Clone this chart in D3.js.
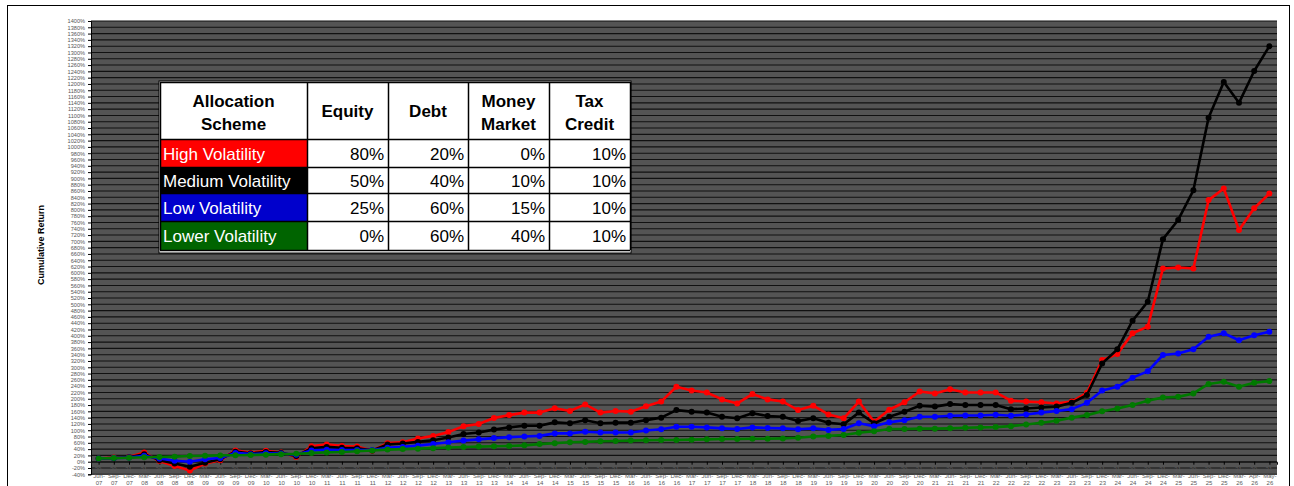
<!DOCTYPE html>
<html>
<head>
<meta charset="utf-8">
<script src="https://cdn.jsdelivr.net/npm/d3@7"></script>
<style>
body { margin: 0; background: #fff; }
svg { display: block; font-family: "Liberation Sans", Arial, sans-serif; }
</style>
</head>
<body>
<svg id="chart"></svg>
<script>
var width = 1294;
var height = 486;

// Quarter-end dates (category axis)
var dates = ['30-Jun-07', '30-Sep-07', '31-Dec-07',
    '31-Mar-08', '30-Jun-08', '30-Sep-08', '31-Dec-08',
    '31-Mar-09', '30-Jun-09', '30-Sep-09', '31-Dec-09',
    '31-Mar-10', '30-Jun-10', '30-Sep-10', '31-Dec-10',
    '31-Mar-11', '30-Jun-11', '30-Sep-11', '31-Dec-11',
    '31-Mar-12', '30-Jun-12', '30-Sep-12', '31-Dec-12',
    '31-Mar-13', '30-Jun-13', '30-Sep-13', '31-Dec-13',
    '31-Mar-14', '30-Jun-14', '30-Sep-14', '31-Dec-14',
    '31-Mar-15', '30-Jun-15', '30-Sep-15', '31-Dec-15',
    '31-Mar-16', '30-Jun-16', '30-Sep-16', '31-Dec-16',
    '31-Mar-17', '30-Jun-17', '30-Sep-17', '31-Dec-17',
    '31-Mar-18', '30-Jun-18', '30-Sep-18', '31-Dec-18',
    '31-Mar-19', '30-Jun-19', '30-Sep-19', '31-Dec-19',
    '31-Mar-20', '30-Jun-20', '30-Sep-20', '31-Dec-20',
    '31-Mar-21', '30-Jun-21', '30-Sep-21', '31-Dec-21',
    '31-Mar-22', '30-Jun-22', '30-Sep-22', '31-Dec-22',
    '31-Mar-23', '30-Jun-23', '30-Sep-23', '31-Dec-23',
    '31-Mar-24', '30-Jun-24', '30-Sep-24', '31-Dec-24',
    '31-Mar-25', '30-Jun-25', '30-Sep-25', '31-Dec-25',
    '31-Mar-26', '30-Apr-26', '31-May-26'];

// Cumulative return (%) per scheme
var highVol = [10, 13, 15, 29, 2, -14, -28, -6, 5, 36,
    28, 35, 29, 15, 49, 55, 50, 48, 35, 59,
    62, 74, 82, 94, 113, 120, 139, 148, 156, 156,
    170, 161, 182, 156, 161, 159, 176, 191, 238, 226,
    220, 198, 185, 215, 198, 191, 164, 178, 150, 138,
    191, 127, 165, 189, 223, 217, 230, 220, 220, 220,
    194, 191, 189, 185, 191, 219, 323, 342, 408, 429,
    614, 617, 614, 831, 868, 736, 805, 852];
var mediumVol = [10, 12, 14, 24, 5, -6, -16, -3, 8, 32,
    26, 31, 28, 18, 43, 47, 44, 43, 36, 55,
    58, 63, 68, 77, 88, 93, 102, 109, 114, 114,
    125, 122, 132, 122, 124, 124, 132, 140, 164, 159,
    156, 143, 138, 154, 145, 143, 129, 138, 124, 119,
    156, 122, 143, 159, 178, 175, 183, 180, 180, 180,
    167, 169, 172, 175, 187, 212, 312, 357, 448, 508,
    707, 768, 862, 1093, 1206, 1140, 1241, 1320];
var lowVol = [10, 12, 13, 19, 10, 3, 0, 8, 12, 28,
    24, 27, 26, 22, 36, 38, 37, 37, 37, 44,
    47, 51, 56, 62, 67, 71, 75, 78, 80, 82,
    90, 90, 95, 93, 93, 93, 99, 103, 111, 111,
    109, 106, 104, 109, 107, 106, 103, 106, 101, 104,
    122, 113, 125, 132, 143, 143, 146, 147, 147, 149,
    146, 150, 156, 161, 167, 187, 226, 238, 267, 287,
    339, 344, 357, 397, 408, 386, 402, 413];
var lowerVol = [10, 11.5, 12.5, 14, 15, 16, 18, 19, 20, 20.5,
    21.5, 22.5, 24, 25, 27.5, 29.5, 31, 33, 36, 38.5,
    40, 41.5, 43, 45, 46.5, 48, 49, 50, 52, 56,
    59, 62, 63, 65, 66, 67, 68, 69, 69, 70,
    71, 72, 72, 73, 73, 74, 76, 80, 82, 85,
    92, 97, 104, 104, 105, 105, 106, 108, 109, 110,
    113, 118, 124, 130, 140, 148, 160, 169, 180, 194,
    204, 206, 217, 247, 254, 238, 251, 256];

// Allocation table
var schemes = ['High Volatility', 'Medium Volatility', 'Low Volatility', 'Lower Volatility'];
var equity = ['80%', '50%', '25%', '0%'];
var debt = ['20%', '40%', '60%', '60%'];
var moneyMarket = ['0%', '10%', '15%', '40%'];
var taxCredit = ['10%', '10%', '10%', '10%'];
var headers = [['Allocation', 'Scheme'], ['Equity'], ['Debt'], ['Money', 'Market'], ['Tax', 'Credit']];

var lineColors = ['#ff0000', '#000000', '#0000ff', '#007a00'];
var cellColors = ['#ff0000', '#000000', '#0000cc', '#006400'];

var series = [highVol, mediumVol, lowVol, lowerVol];

var svg = d3.select('#chart')
        .attr('width', width)
        .attr('height', height);

// chart area border
svg.append('rect')
    .attr('x', 7.5)
    .attr('y', 5.5)
    .attr('width', 1282)
    .attr('height', 500)
    .attr('fill', '#fff')
    .attr('stroke', '#000');

var plot = {left: 91, right: 1277, top: 21, bottom: 474.3};

var x = d3.scalePoint()
    .domain(dates)
    .range([plot.left, plot.right])
    .padding(0.5);

var y = d3.scaleLinear()
    .domain([-40, 1400])
    .range([plot.bottom, plot.top]);

var yTicks = d3.range(-40, 1401, 20);

// plot background
svg.append('rect')
    .attr('x', plot.left)
    .attr('y', plot.top)
    .attr('width', plot.right - plot.left)
    .attr('height', plot.bottom - plot.top)
    .attr('fill', '#545454');

// gridlines
svg.append('g')
    .selectAll('line')
    .data(yTicks)
    .enter()
    .append('line')
        .attr('x1', plot.left)
        .attr('x2', plot.right)
        .attr('y1', d => y(d))
        .attr('y2', d => y(d))
        .attr('stroke', '#111')
        .attr('stroke-width', 1.1);

// y axis
var yAxis = svg.append('g')
    .attr('transform', `translate(${plot.left}, 0)`)
    .call(d3.axisLeft(y).tickValues(yTicks).tickFormat(d => d + '%').tickSize(3).tickPadding(3));

yAxis.select('.domain').attr('stroke', '#000');
yAxis.selectAll('.tick line').attr('stroke', '#000');
yAxis.selectAll('.tick text')
    .attr('font-size', 5.6)
    .attr('fill', '#555')
    .attr('font-family', '"Liberation Sans", Arial, sans-serif');

// y axis title
svg.append('text')
    .attr('transform', 'translate(44, 245) rotate(-90)')
    .attr('text-anchor', 'middle')
    .attr('font-size', 9)
    .attr('font-weight', 'bold')
    .text('Cumulative Return');

// x axis crossing at 0%
var xAxis = svg.append('g')
    .attr('transform', `translate(0, ${y(0)})`)
    .call(d3.axisBottom(x).tickSize(3).tickFormat(''));

xAxis.select('.domain').attr('stroke', '#111');
xAxis.selectAll('.tick line').attr('stroke', '#000');

var xLabels = xAxis.selectAll('.tick')
    .append('text')
        .attr('fill', '#5a5a5a')
        .attr('font-size', 6)
        .attr('font-family', '"Liberation Sans", Arial, sans-serif')
        .attr('text-anchor', 'middle');

xLabels.selectAll('tspan')
    .data(d => {
        var p = d.split('-');
        return [p[0] + '-', p[1] + '-', p[2]];
    })
    .enter()
    .append('tspan')
        .attr('x', 0)
        .attr('y', (d, i) => 9 + i * 7.1)
        .text(d => d);

// series lines and markers
var line = d3.line()
    .x((d, i) => x(dates[i]))
    .y(d => y(d));

series.forEach(function(s, k) {
    var g = svg.append('g');
    g.append('path')
        .datum(s)
        .attr('fill', 'none')
        .attr('stroke', lineColors[k])
        .attr('stroke-width', 2.6)
        .attr('stroke-linejoin', 'round')
        .attr('d', line);
    g.selectAll('circle')
        .data(s)
        .enter()
        .append('circle')
            .attr('cx', (d, i) => x(dates[i]))
            .attr('cy', d => y(d))
            .attr('r', 3)
            .attr('fill', lineColors[k]);
});

// allocation table
var colEdges = [160, 307, 388, 468, 549, 630];
var rowEdges = [82, 139, 167, 193, 221, 250];
var values = [equity, debt, moneyMarket, taxCredit];

var table = svg.append('g')
    .attr('font-size', 17);

table.append('rect')
    .attr('x', colEdges[0] - 1)
    .attr('y', rowEdges[0] - 1)
    .attr('width', colEdges[5] - colEdges[0] + 2)
    .attr('height', rowEdges[5] - rowEdges[0] + 4)
    .attr('fill', '#fff')
    .attr('stroke', '#000');

// scheme color cells
table.selectAll('.scheme')
    .data(schemes)
    .enter()
    .append('rect')
        .classed('scheme', true)
        .attr('x', colEdges[0])
        .attr('y', (d, i) => rowEdges[i + 1])
        .attr('width', colEdges[1] - colEdges[0])
        .attr('height', (d, i) => rowEdges[i + 2] - rowEdges[i + 1])
        .attr('fill', (d, i) => cellColors[i]);

// cell borders
table.selectAll('.vline')
    .data(colEdges)
    .enter()
    .append('line')
        .attr('x1', d => d + 0.5)
        .attr('x2', d => d + 0.5)
        .attr('y1', rowEdges[0])
        .attr('y2', rowEdges[5])
        .attr('stroke', '#000')
        .attr('stroke-width', 1.5);

table.selectAll('.hline')
    .data(rowEdges)
    .enter()
    .append('line')
        .attr('x1', colEdges[0])
        .attr('x2', colEdges[5])
        .attr('y1', d => d + 0.5)
        .attr('y2', d => d + 0.5)
        .attr('stroke', '#000')
        .attr('stroke-width', 1.5);

// header text
headers.forEach(function(h, c) {
    var cx = (colEdges[c] + colEdges[c + 1]) / 2;
    var ys = h.length === 2 ? [107, 130] : [117];
    h.forEach(function(t, j) {
        table.append('text')
            .attr('x', cx)
            .attr('y', ys[j])
            .attr('text-anchor', 'middle')
            .attr('font-weight', 'bold')
            .attr('fill', '#000')
            .text(t);
    });
});

// scheme names
table.selectAll('.name')
    .data(schemes)
    .enter()
    .append('text')
        .attr('x', colEdges[0] + 3)
        .attr('y', (d, i) => (rowEdges[i + 1] + rowEdges[i + 2]) / 2 + 6.5)
        .attr('fill', '#fff')
        .text(d => d);

// percentages
values.forEach(function(col, c) {
    table.selectAll('.v' + c)
        .data(col)
        .enter()
        .append('text')
            .attr('x', colEdges[c + 2] - 4)
            .attr('y', (d, i) => (rowEdges[i + 1] + rowEdges[i + 2]) / 2 + 6.5)
            .attr('text-anchor', 'end')
            .attr('fill', '#000')
            .text(d => d);
});
</script>
</body>
</html>
